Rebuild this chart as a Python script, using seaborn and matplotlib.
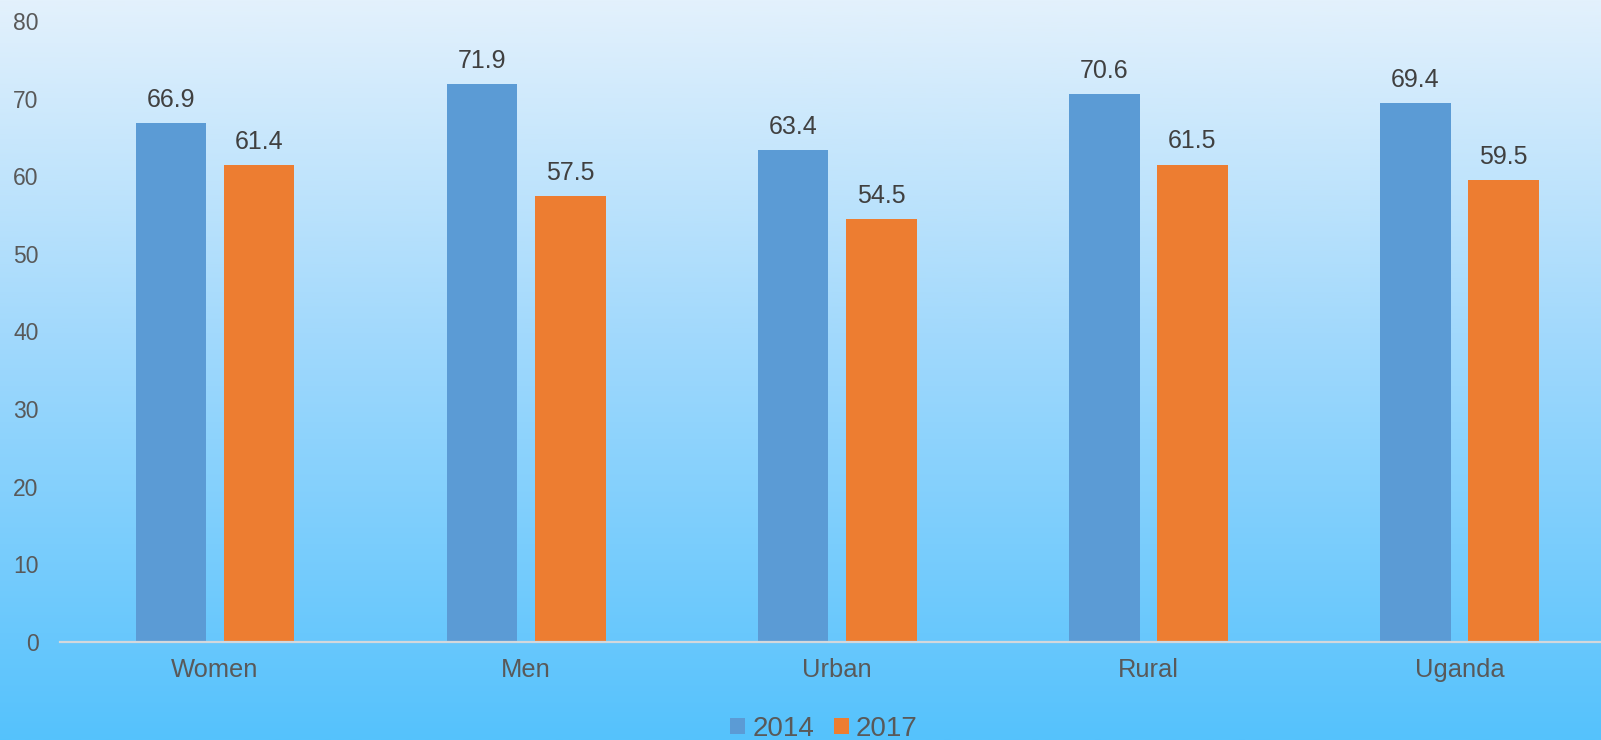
import numpy as np
import pandas as pd
import matplotlib
matplotlib.use("Agg")
import matplotlib.pyplot as plt
from matplotlib.colors import LinearSegmentedColormap
from matplotlib.patches import Rectangle
import seaborn as sns

categories = ["Women", "Men", "Urban", "Rural", "Uganda"]
values_2014 = [66.9, 71.9, 63.4, 70.6, 69.4]
values_2017 = [61.4, 57.5, 54.5, 61.5, 59.5]
series = ["2014", "2017"]
y_ticks = [0, 10, 20, 30, 40, 50, 60, 70, 80]

df = pd.DataFrame({
    "category": categories * 2,
    "value": values_2014 + values_2017,
    "year": [series[0]] * len(categories) + [series[1]] * len(categories),
})

sns.set_style("white")
plt.rcParams["font.family"] = ["Liberation Sans", "DejaVu Sans"]

W, H = 1601, 740
fig = plt.figure(figsize=(W / 100, H / 100), dpi=100)

# background gradient
bg = fig.add_axes([0, 0, 1, 1], zorder=0)
cmap = LinearSegmentedColormap.from_list(
    "bg", [(0.0, "#E3F1FC"), (0.45, "#A2D9FC"), (1.0, "#55C2FD")])
grad = np.linspace(0, 1, 256).reshape(-1, 1)
bg.imshow(grad, aspect="auto", cmap=cmap, extent=[0, 1, 0, 1], origin="upper")
bg.set_axis_off()

ax = fig.add_axes([59.5 / W, 1 - 642 / H, (1615 - 59.5) / W, (642 - 21) / H], zorder=1)
ax.set_facecolor("none")

palette = {"2014": "#5B9BD5", "2017": "#ED7D31"}
sns.barplot(data=df, x="category", y="value", hue="year", palette=palette,
            width=0.567, gap=0.2, ax=ax, legend=False, saturation=1,
            linewidth=0)

ax.set_ylim(0, 80)
ax.set_xlim(-0.5, 4.5)
ax.set_yticks(y_ticks)
ax.set_xlabel("")
ax.set_ylabel("")
for s in ["top", "right", "left"]:
    ax.spines[s].set_visible(False)
ax.spines["bottom"].set_color("#D4D8DC")
ax.spines["bottom"].set_linewidth(1.6)
ax.spines["bottom"].set_zorder(5)
ax.tick_params(axis="y", length=0, pad=15, labelsize=16.5, labelcolor="#595959")
ax.tick_params(axis="x", length=0, pad=11.5, labelsize=18.4, labelcolor="#595959")
ax.grid(False)

for cont in ax.containers:
    ax.bar_label(cont, fmt="%.1f", padding=8, fontsize=18, color="#404040")

handles = [Rectangle((0, 0), 1, 1, facecolor=palette[s], edgecolor="none") for s in series]
fig.legend(handles, series, loc="upper center", ncol=2, frameon=False,
           bbox_to_anchor=(824 / W, 1 - 702 / H), borderpad=0,
           fontsize=20, labelcolor="#595959", handlelength=0.54, handleheight=0.54,
           handletextpad=0.25, columnspacing=0.72)

fig.savefig("out.png", dpi=100)
